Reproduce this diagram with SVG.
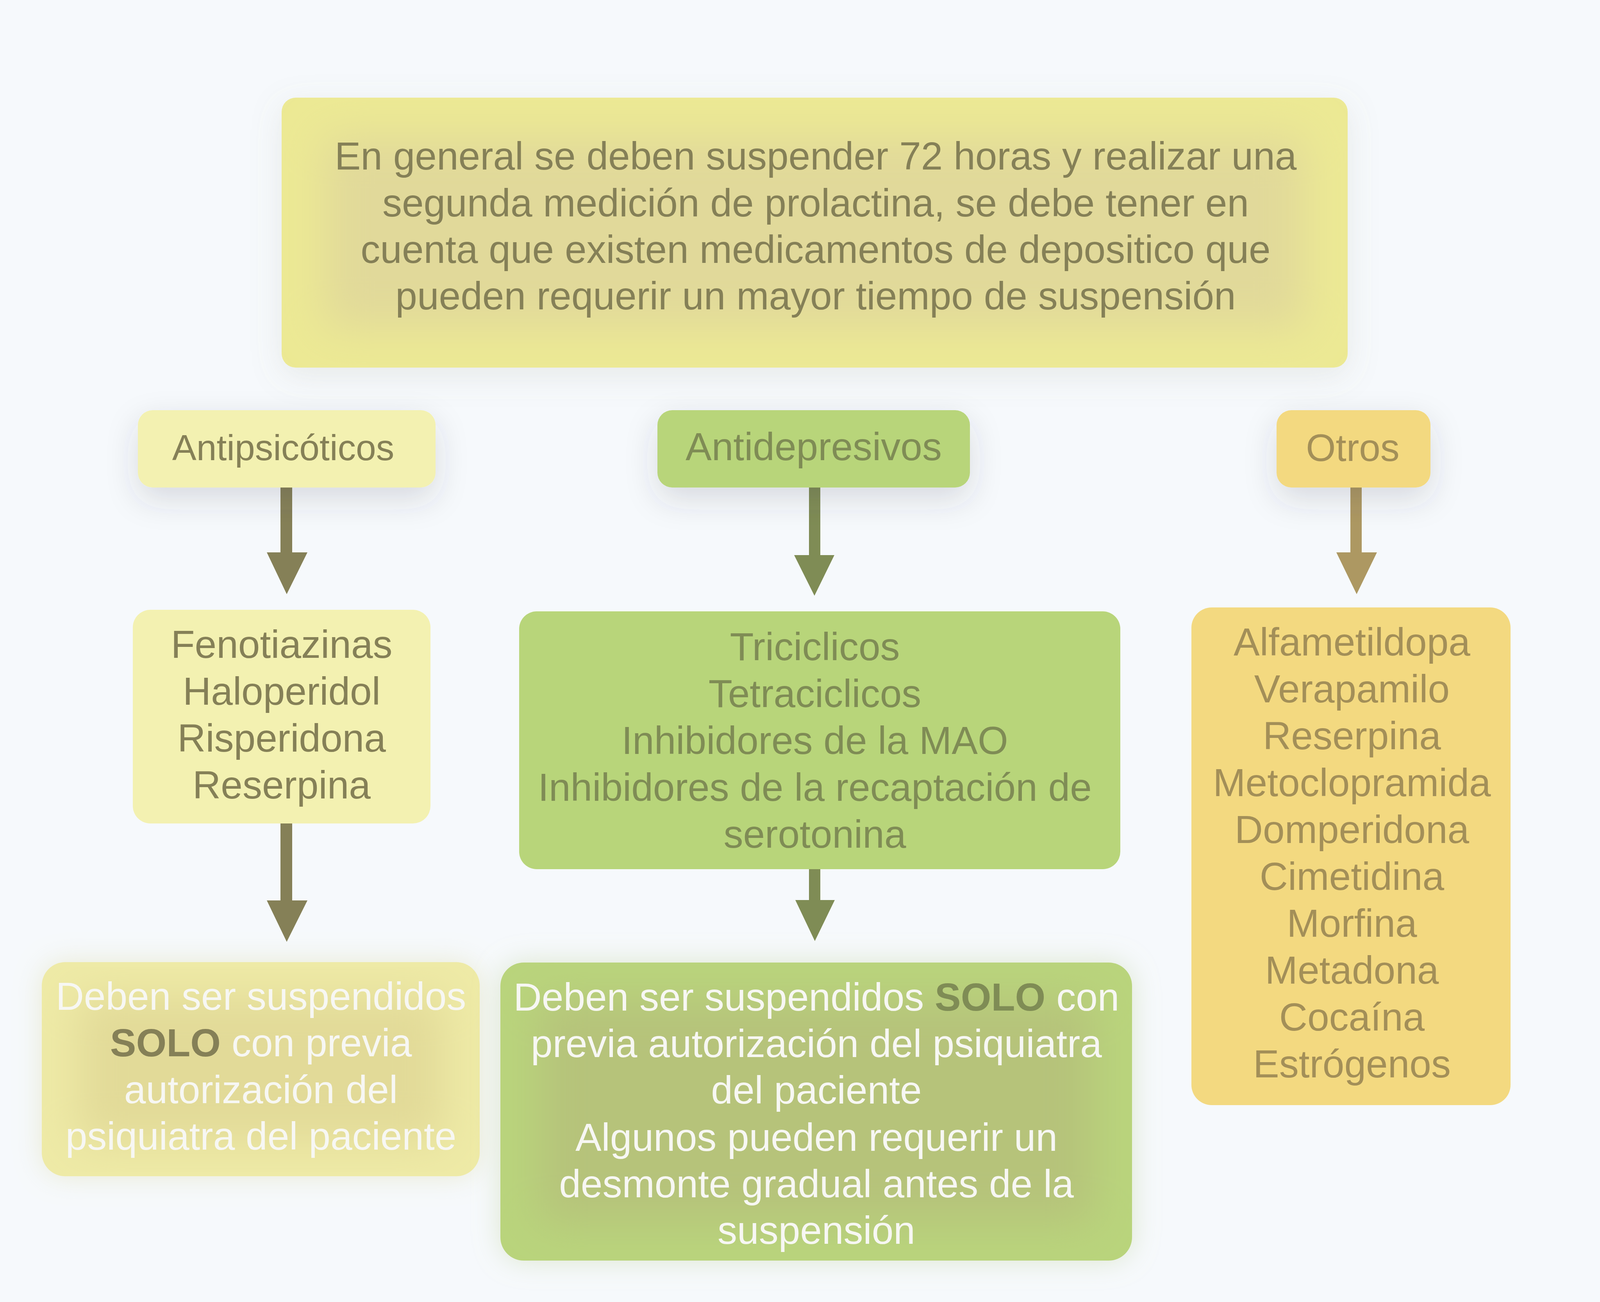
<svg xmlns="http://www.w3.org/2000/svg" width="4167" height="3333" viewBox="0 0 4167 3333">
<defs>
<style>
text{font-family:"Liberation Sans",Arial,Helvetica,sans-serif;text-anchor:middle;font-size:100px}
.ol{fill:#858057}
.gr{fill:#7f8c55}
.go{fill:#a38f58}
.wh{fill:#f7f7f3}
.b{font-weight:bold}
</style>
<filter id="hdr" x="-30%" y="-50%" width="160%" height="250%">
<feDropShadow dx="0" dy="30" stdDeviation="40" flood-color="#3c4050" flood-opacity="0.16"/>
</filter>
<filter id="topsh" x="-10%" y="-20%" width="120%" height="140%">
<feDropShadow dx="0" dy="20" stdDeviation="40" flood-color="#8a8a70" flood-opacity="0.14"/>
</filter>
<filter id="haloY" x="-20%" y="-20%" width="140%" height="140%">
<feDropShadow dx="0" dy="0" stdDeviation="35" flood-color="#d9d8a0" flood-opacity="0.45"/>
</filter>
<filter id="haloG" x="-20%" y="-20%" width="140%" height="140%">
<feDropShadow dx="0" dy="0" stdDeviation="35" flood-color="#b7c98a" flood-opacity="0.4"/>
</filter>
<filter id="inner" x="-20%" y="-20%" width="140%" height="140%">
<feGaussianBlur stdDeviation="55"/>
</filter>
<clipPath id="cTop"><rect x="721" y="250" width="2729" height="691" rx="36"/></clipPath>
<clipPath id="cBL"><rect x="107" y="2463" width="1121" height="548" rx="60"/></clipPath>
<clipPath id="cBM"><rect x="1281" y="2464" width="1617" height="763" rx="60"/></clipPath>
</defs>
<rect x="0" y="0" width="4167" height="3333" fill="#f6f9fc"/>

<g id="connectors">
<path fill="#858057" d="M718 1248 H748 V1414 H787 L734 1521 L683 1414 H718 Z"/>
<path fill="#858057" d="M718 2108 H748 V2305 H787 L734 2411 L683 2305 H718 Z"/>
<path fill="#7f8c55" d="M2071 1248 H2100 V1421 H2136 L2085 1525 L2033 1421 H2071 Z"/>
<path fill="#7f8c55" d="M2071 2225 H2100 V2304 H2137 L2086 2409 L2036 2304 H2071 Z"/>
<path fill="#ad9862" d="M3457 1248 H3486 V1414 H3525 L3473 1521 L3421 1414 H3457 Z"/>
</g>

<g id="top">
<rect x="721" y="250" width="2729" height="691" rx="36" fill="#ece994" filter="url(#topsh)"/>
<g clip-path="url(#cTop)"><rect x="830" y="350" width="2510" height="490" fill="#e1d99a" filter="url(#inner)"/></g>
<text class="ol" x="2088" y="434">En general se deben suspender 72 horas y realizar una</text>
<text class="ol" x="2088" y="554">segunda medición de prolactina, se debe tener en</text>
<text class="ol" x="2088" y="673">cuenta que existen medicamentos de depositico que</text>
<text class="ol" x="2088" y="792">pueden requerir un mayor tiempo de suspensión</text>
</g>

<g id="antipsicoticos">
<rect x="353" y="1050" width="762" height="198" rx="38" fill="#f3f1b1" filter="url(#hdr)"/>
<text class="ol" x="725" y="1178" style="font-size:93px">Antipsicóticos</text>
</g>

<g id="antidepresivos">
<rect x="1683" y="1050" width="800" height="198" rx="38" fill="#b8d57a" filter="url(#hdr)"/>
<text class="gr" x="2083" y="1178">Antidepresivos</text>
</g>

<g id="otros">
<rect x="3268" y="1050" width="394" height="198" rx="38" fill="#f3d980" filter="url(#hdr)"/>
<text class="go" x="3463" y="1180" style="font-size:98px">Otros</text>
</g>

<g id="antipsicoticos-lista">
<rect x="340" y="1561" width="762" height="547" rx="45" fill="#f3f1b1"/>
<text class="ol" x="721" y="1684">Fenotiazinas</text>
<text class="ol" x="721" y="1804">Haloperidol</text>
<text class="ol" x="721" y="1924">Risperidona</text>
<text class="ol" x="721" y="2044">Reserpina</text>
</g>

<g id="antidepresivos-lista">
<rect x="1329" y="1565" width="1539" height="660" rx="45" fill="#b8d57a"/>
<text class="gr" x="2086" y="1690">Triciclicos</text>
<text class="gr" x="2086" y="1810">Tetraciclicos</text>
<text class="gr" x="2086" y="1930">Inhibidores de la MAO</text>
<text class="gr" x="2086" y="2050">Inhibidores de la recaptación de</text>
<text class="gr" x="2086" y="2170">serotonina</text>
</g>

<g id="otros-lista">
<rect x="3050" y="1555" width="817" height="1274" rx="52" fill="#f3d980"/>
<text class="go" x="3461" y="1678">Alfametildopa</text>
<text class="go" x="3461" y="1798">Verapamilo</text>
<text class="go" x="3461" y="1918">Reserpina</text>
<text class="go" x="3461" y="2038">Metoclopramida</text>
<text class="go" x="3461" y="2158">Domperidona</text>
<text class="go" x="3461" y="2278">Cimetidina</text>
<text class="go" x="3461" y="2398">Morfina</text>
<text class="go" x="3461" y="2518">Metadona</text>
<text class="go" x="3461" y="2638">Cocaína</text>
<text class="go" x="3461" y="2758">Estrógenos</text>
</g>

<g id="antipsicoticos-nota">
<rect x="107" y="2463" width="1121" height="548" rx="60" fill="#eeeaa6" filter="url(#haloY)"/>
<g clip-path="url(#cBL)"><rect x="200" y="2550" width="935" height="374" fill="#e2da98" filter="url(#inner)"/></g>
<text class="wh" x="668" y="2585">Deben ser suspendidos</text>
<text class="wh" x="668" y="2704"><tspan class="ol b">SOLO</tspan> con previa</text>
<text class="wh" x="668" y="2824">autorización del</text>
<text class="wh" x="668" y="2943">psiquiatra del paciente</text>
</g>

<g id="antidepresivos-nota">
<rect x="1281" y="2464" width="1617" height="763" rx="60" fill="#b9d47b" filter="url(#haloG)"/>
<g clip-path="url(#cBM)"><rect x="1380" y="2560" width="1420" height="570" fill="#b6c37a" filter="url(#inner)"/></g>
<text class="wh" x="2090" y="2587">Deben ser suspendidos <tspan class="gr b">SOLO</tspan> con</text>
<text class="wh" x="2090" y="2706">previa autorización del psiquiatra</text>
<text class="wh" x="2090" y="2825">del paciente</text>
<text class="wh" x="2090" y="2946">Algunos pueden requerir un</text>
<text class="wh" x="2090" y="3065">desmonte gradual antes de la</text>
<text class="wh" x="2090" y="3184">suspensión</text>
</g>
</svg>
